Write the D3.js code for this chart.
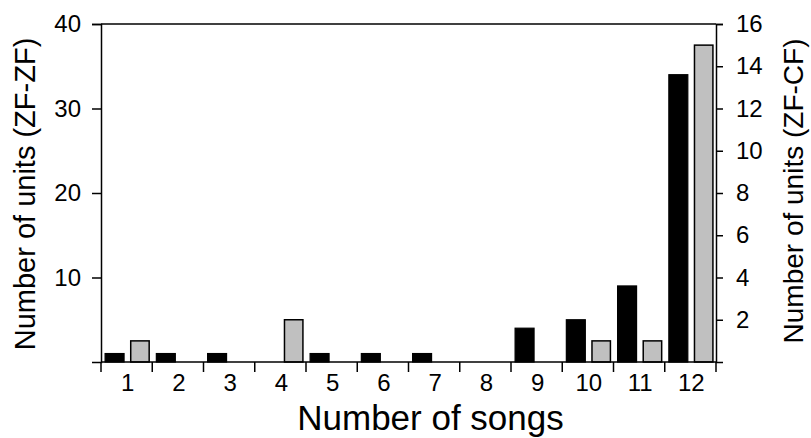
<!DOCTYPE html>
<html>
<head>
<meta charset="utf-8">
<script src="https://cdn.jsdelivr.net/npm/d3@7"></script>
<style>
  body { margin: 0; background: #fff; }
  text { font-family: "Liberation Sans", Arial, sans-serif; fill: #000; }
</style>
</head>
<body>
<script>
// data
var songs = ["1", "2", "3", "4", "5", "6", "7", "8", "9", "10", "11", "12"];
var zfzf = [1, 1, 1, 0, 1, 1, 1, 0, 4, 5, 9, 34];   // left axis, black bars
var zfcf = [1, 0, 0, 2, 0, 0, 0, 0, 0, 1, 1, 15];   // right axis, gray bars
var leftTicks = [10, 20, 30, 40];
var rightTicks = [2, 4, 6, 8, 10, 12, 14, 16];

var width = 811, height = 438;
var margin = { top: 24, right: 95, bottom: 76, left: 101 };

var svg = d3.select("body")
  .append("svg")
  .attr("width", width)
  .attr("height", height);

var x = d3.scaleBand()
  .domain(songs)
  .range([margin.left, width - margin.right]);

var yLeft = d3.scaleLinear()
  .domain([0, 40])
  .range([height - margin.bottom, margin.top]);

var yRight = d3.scaleLinear()
  .domain([0, 16])
  .range([height - margin.bottom, margin.top]);

var bw = x.bandwidth();

// black bars (ZF-ZF)
svg.selectAll(".zf")
  .data(songs.filter(function (s, i) { return zfzf[i] > 0; }))
  .enter()
  .append("rect")
  .attr("class", "zf")
  .attr("x", function (s) { return x(s) + bw * 0.08; })
  .attr("y", function (s) { return yLeft(zfzf[songs.indexOf(s)]); })
  .attr("width", bw * 0.37)
  .attr("height", function (s) { return yLeft(0) - yLeft(zfzf[songs.indexOf(s)]); })
  .attr("fill", "#000")
  .attr("stroke", "#000")
  .attr("stroke-width", 1.2);

// gray bars (ZF-CF)
svg.selectAll(".zc")
  .data(songs.filter(function (s, i) { return zfcf[i] > 0; }))
  .enter()
  .append("rect")
  .attr("class", "zc")
  .attr("x", function (s) { return x(s) + bw * 0.58; })
  .attr("y", function (s) { return yRight(zfcf[songs.indexOf(s)]); })
  .attr("width", bw * 0.36)
  .attr("height", function (s) { return yRight(0) - yRight(zfcf[songs.indexOf(s)]); })
  .attr("fill", "#c0c0c0")
  .attr("stroke", "#000")
  .attr("stroke-width", 1.5);

// top line of frame
svg.append("line")
  .attr("x1", margin.left).attr("x2", width - margin.right)
  .attr("y1", margin.top).attr("y2", margin.top)
  .attr("stroke", "#000").attr("stroke-width", 1.5);

var gl = svg.append("g")
  .attr("transform", "translate(" + margin.left + ",0)")
  .call(d3.axisLeft(yLeft).tickValues(leftTicks).tickSize(9).tickPadding(11));

var gr = svg.append("g")
  .attr("transform", "translate(" + (width - margin.right) + ",0)")
  .call(d3.axisRight(yRight).tickValues(rightTicks).tickSize(7).tickPadding(13));

// bottom axis, ticks sit on category boundaries
var bounds = songs.map(function (s) { return x(s); }).concat([x.range()[1]]);
var gb = svg.append("g")
  .attr("transform", "translate(0," + (height - margin.bottom) + ")");
gb.append("line")
  .attr("x1", margin.left).attr("x2", width - margin.right)
  .attr("stroke", "#000").attr("stroke-width", 1.5);
gb.selectAll(".tk")
  .data(bounds)
  .enter()
  .append("line")
  .attr("x1", function (d) { return d; })
  .attr("x2", function (d) { return d; })
  .attr("y1", 0).attr("y2", 10)
  .attr("stroke", "#000").attr("stroke-width", 1.5);
gb.selectAll(".lb")
  .data(songs)
  .enter()
  .append("text")
  .attr("x", function (d) { return x(d) + bw / 2 + 1; })
  .attr("y", 29)
  .attr("text-anchor", "middle")
  .attr("font-size", 24)
  .text(function (d) { return d; });

[gl, gr].forEach(function (g) {
  g.selectAll(".domain").attr("stroke-width", 1.5);
  g.selectAll(".tick line").attr("stroke-width", 1.5);
  g.selectAll("text")
    .attr("font-size", 24)
    .style("font-family", "'Liberation Sans', Arial, sans-serif")
    .attr("fill", "#000");
});

// titles
svg.append("text")
  .attr("x", (margin.left + width - margin.right) / 2 + 22)
  .attr("y", 430)
  .attr("text-anchor", "middle")
  .attr("font-size", 35)
  .text("Number of songs");

svg.append("text")
  .attr("transform", "translate(35,194) rotate(-90)")
  .attr("text-anchor", "middle")
  .attr("font-size", 29)
  .text("Number of units (ZF-ZF)");

svg.append("text")
  .attr("transform", "translate(803,191) rotate(-90)")
  .attr("text-anchor", "middle")
  .attr("font-size", 28)
  .text("Number of units (ZF-CF)");
</script>
</body>
</html>
